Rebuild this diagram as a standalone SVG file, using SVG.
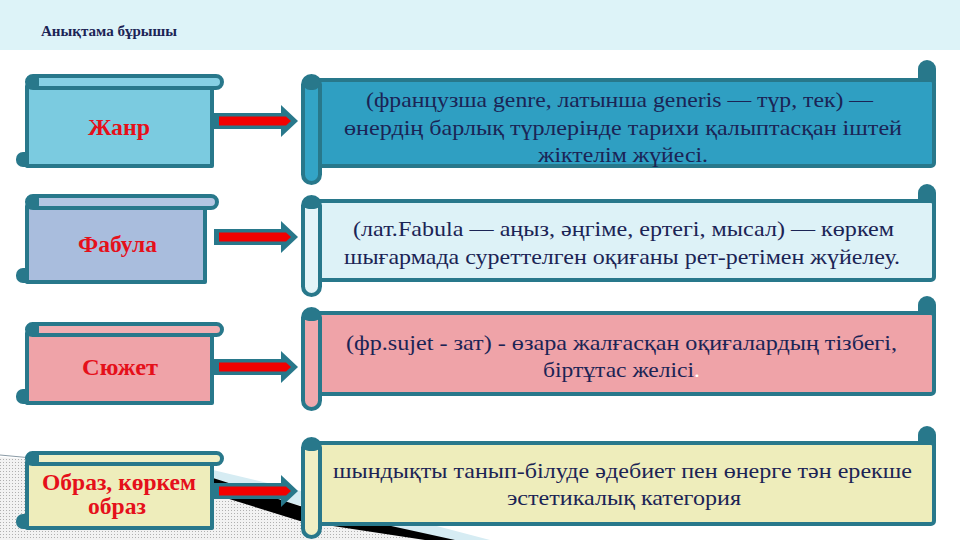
<svg xmlns="http://www.w3.org/2000/svg" width="960" height="540" viewBox="0 0 960 540">
<defs>
<pattern id="dots" width="3" height="3" patternUnits="userSpaceOnUse">
<rect width="3" height="3" fill="#f2f2f2"/>
<rect width="1" height="1" fill="#b0b0b0"/>
</pattern>
<style>
.teal{fill:#28788B}
.st{stroke:#28788B;stroke-width:4;stroke-linejoin:round}
.lbl{font-family:"Liberation Serif","Times New Roman",serif;font-weight:bold;font-size:24px;fill:#E5101A;text-anchor:middle}
.txt{font-family:"Liberation Serif","Times New Roman",serif;font-size:22px;fill:#1B2455}
.title{font-family:"Liberation Serif","Times New Roman",serif;font-weight:bold;font-size:14px;fill:#1B2455}
.red{fill:#F20000}
</style>
</defs>
<rect width="960" height="540" fill="#ffffff"/>
<rect width="960" height="50" fill="#DDF3F8"/>
<text class="title" x="41" y="36" textLength="136" lengthAdjust="spacingAndGlyphs">Анықтама бұрышы</text>

<!-- background decoration -->
<g id="decor">
<path d="M0,457 L75,463 L213,492 L430,540 L0,540 Z" fill="url(#dots)"/>
<path d="M0,455 L75,462" stroke="#8a9aa5" stroke-width="1" fill="none"/>
<path d="M213,470 L330,498 L490,540 L440,540 L213,484 Z" fill="#D6ECF3"/>
<path d="M213,478 L300,506 L455,540 L425,540 L300,521 L213,494 Z" fill="#000000"/>
</g>

<!-- Left nodes -->
<g id="node-zhanr">
<rect x="16" y="152" width="22" height="15" rx="7" class="teal"/>
<rect x="27" y="86" width="185" height="80" fill="#7BCBE0" class="st"/>
<rect x="27" y="76" width="195" height="12" rx="6" fill="#86D0E4" class="st"/>
<rect x="27" y="76" width="12" height="12" rx="3" class="teal"/>
<text class="lbl" x="119" y="135" textLength="62" lengthAdjust="spacingAndGlyphs">Жанр</text>
</g>
<g id="node-fabula">
<rect x="16" y="268" width="22" height="15" rx="7" class="teal"/>
<rect x="27" y="206" width="178" height="76" fill="#A9BDDD" class="st"/>
<rect x="27" y="196" width="190" height="12" rx="6" fill="#B3C5E2" class="st"/>
<rect x="27" y="196" width="12" height="12" rx="3" class="teal"/>
<text class="lbl" x="117.5" y="252" textLength="79" lengthAdjust="spacingAndGlyphs">Фабула</text>
</g>
<g id="node-syuzhet">
<rect x="16" y="389" width="22" height="15" rx="7" class="teal"/>
<rect x="27" y="333" width="185" height="70" fill="#EFA3A8" class="st"/>
<rect x="27" y="324" width="195" height="11" rx="5.5" fill="#F1AEB2" class="st"/>
<rect x="27" y="324" width="12" height="11" rx="3" class="teal"/>
<text class="lbl" x="120" y="375" textLength="76" lengthAdjust="spacingAndGlyphs">Сюжет</text>
</g>
<g id="node-obraz">
<rect x="16" y="514" width="22" height="15" rx="7" class="teal"/>
<rect x="27" y="462" width="185" height="66" fill="#EEEDBB" class="st"/>
<rect x="27" y="453" width="195" height="11" rx="5.5" fill="#F0EFC4" class="st"/>
<rect x="27" y="453" width="12" height="11" rx="3" class="teal"/>
<text class="lbl" x="119" y="490" textLength="154" lengthAdjust="spacingAndGlyphs">Образ, көркем</text>
<text class="lbl" x="117" y="514" textLength="58" lengthAdjust="spacingAndGlyphs">образ</text>
</g>

<!-- Right nodes -->
<g id="node-def1">
<rect x="918" y="60" width="18" height="30" rx="9" class="teal"/>
<rect x="312" y="80" width="622" height="86" rx="3" fill="#2F9FC2" class="st"/>
<rect x="303" y="76" width="17" height="107" rx="8.5" fill="#33A4C6" class="st"/>
<rect x="303" y="76" width="17" height="14" rx="7" class="teal"/>
<text class="txt" x="366" y="107" textLength="507" lengthAdjust="spacingAndGlyphs">(французша genre, латынша generis — түр, тек) —</text>
<text class="txt" x="344" y="135" textLength="558" lengthAdjust="spacingAndGlyphs">өнердің барлық түрлерінде тарихи қалыптасқан іштей</text>
<text class="txt" x="538" y="162" textLength="170" lengthAdjust="spacingAndGlyphs">жіктелім жүйесі.</text>
</g>
<g id="node-def2">
<rect x="918" y="184" width="18" height="30" rx="9" class="teal"/>
<rect x="312" y="201" width="622" height="79" rx="3" fill="#DDF2F7" class="st"/>
<rect x="303" y="197" width="17" height="98" rx="8.5" fill="#E3F4F8" class="st"/>
<rect x="303" y="197" width="17" height="12" rx="6" class="teal"/>
<text class="txt" x="353" y="236" textLength="541" lengthAdjust="spacingAndGlyphs">(лат.Fabula — аңыз, әңгіме, ертегі, мысал) — көркем</text>
<text class="txt" x="344" y="264" textLength="556" lengthAdjust="spacingAndGlyphs">шығармада суреттелген оқиғаны рет-ретімен жүйелеу.</text>
</g>
<g id="node-def3">
<rect x="918" y="296" width="18" height="30" rx="9" class="teal"/>
<rect x="312" y="313" width="622" height="81" rx="3" fill="#EFA3A8" class="st"/>
<rect x="303" y="309" width="17" height="100" rx="8.5" fill="#F0A9AD" class="st"/>
<rect x="303" y="309" width="17" height="12" rx="6" class="teal"/>
<text class="txt" x="346" y="350" textLength="551" lengthAdjust="spacingAndGlyphs">(фр.sujet - зат) - өзара жалғасқан оқиғалардың тізбегі,</text>
<text class="txt" x="543" y="377" textLength="157" lengthAdjust="spacingAndGlyphs">біртұтас желісі<tspan fill="#ffffff">.</tspan></text>
</g>
<g id="node-def4">
<rect x="918" y="426" width="18" height="30" rx="9" class="teal"/>
<rect x="312" y="443" width="622" height="81" rx="3" fill="#EEEDBB" class="st"/>
<rect x="303" y="439" width="17" height="98" rx="8.5" fill="#F0EFC4" class="st"/>
<rect x="303" y="439" width="17" height="12" rx="6" class="teal"/>
<text class="txt" x="333" y="478" textLength="579" lengthAdjust="spacingAndGlyphs">шындықты танып-білуде әдебиет пен өнерге тән ерекше</text>
<text class="txt" x="507" y="505" textLength="234" lengthAdjust="spacingAndGlyphs">эстетикалық категория</text>
</g>

<!-- Connectors -->
<g id="connectors">
<polygon class="teal" points="214,113 281,113 281,105 298,121 281,137 281,129 214,129"/>
<polygon class="red" points="219,116.5 286,116.5 291,121 286,125.5 219,125.5"/>
<polygon class="teal" points="214,229 281,229 281,221 298,237 281,253 281,245 214,245"/>
<polygon class="red" points="219,232.5 286,232.5 291,237 286,241.5 219,241.5"/>
<polygon class="teal" points="214,359 281,359 281,351 298,367 281,383 281,375 214,375"/>
<polygon class="red" points="219,362.5 286,362.5 291,367 286,371.5 219,371.5"/>
<polygon class="teal" points="214,483 281,483 281,475 298,491 281,507 281,499 214,499"/>
<polygon class="red" points="219,486.5 286,486.5 291,491 286,495.5 219,495.5"/>
</g>
</svg>
